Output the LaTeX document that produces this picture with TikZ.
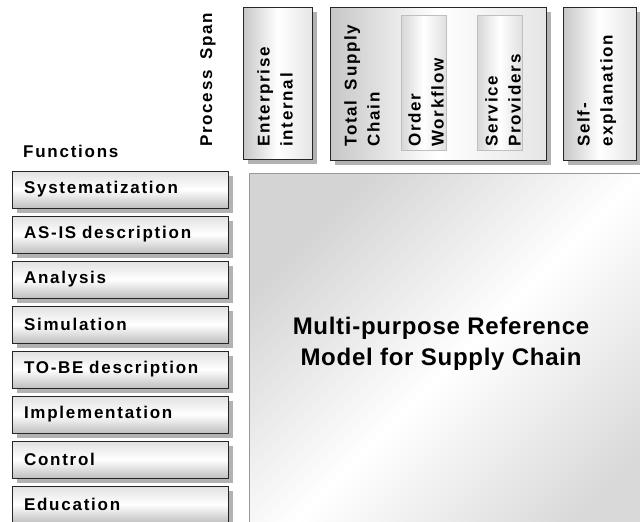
\documentclass[tikz,border=0pt]{standalone}
\usepackage{fontspec}
\setmainfont{Liberation Sans}
\newfontfamily\lblfont{Liberation Sans}[LetterSpace=10.3, WordSpace=1.6]
\newfontfamily\ttlfont{Liberation Sans}[LetterSpace=3]
\usetikzlibrary{shadows}
\tikzset{
  shadowed/.style={drop shadow={shadow xshift=5pt, shadow yshift=-5pt, fill=black!30, opacity=1}},
  lbl/.style={font=\lblfont\bfseries\fontsize{17}{22}\selectfont},
  fbox/.style={draw=black!85, line width=0.9pt, top color=black!12, bottom color=black!25, middle color=white,
    shadowed, minimum width=216pt, minimum height=37pt, text width=192pt, inner xsep=12pt, inner ysep=0pt,
    align=left, lbl},
  hbox/.style={draw=black!85, line width=0.9pt, left color=black!22, right color=black!10, middle color=white, shadowed, inner sep=0pt},
  ibox/.style={draw=black!25, line width=0.7pt, left color=black!16, right color=black!12, middle color=white, inner sep=0pt},
  hlabel/.style={rotate=90, anchor=north west, inner sep=0pt, align=left, font=\lblfont\bfseries\fontsize{17}{23}\selectfont},
}
\begin{document}
\begin{tikzpicture}[x=1pt,y=-1pt]
\useasboundingbox[fill=white] (0,0) rectangle (640,522);
% header boxes
\node[hbox, minimum width=69pt, minimum height=152pt] (ent) at (277.5,83) {};
\node[hbox, minimum width=216pt, minimum height=153pt] (tsc) at (438,83.5) {};
\node[ibox, minimum width=45pt, minimum height=135pt] (ow) at (423.5,82.5) {};
\node[ibox, minimum width=45pt, minimum height=135pt] (sp) at (499.5,82.5) {};
\node[hbox, minimum width=73pt, minimum height=153pt] (self) at (599.5,83.5) {};
% header labels
\node[hlabel] (entl) at (257,147) {Enterprise\\internal};
\node[hlabel] (tscl) at (344,147) {Total Supply\\Chain};
\node[hlabel] (owl) at (408,147) {Order\\Workflow};
\node[hlabel] (spl) at (485,147) {Service\\Providers};
\node[hlabel] (selfl) at (577,147) {Self-\\explanation};
\node[rotate=90, anchor=base west, inner sep=0pt, lbl] (pspan) at (212,147) {Process Span};
\node[anchor=base west, inner sep=0pt, lbl] (funcs) at (23,157) {Functions};
% function boxes
\foreach \t [count=\i from 0] in {Systematization,AS-IS description,Analysis,Simulation,TO-BE description,Implementation,Control,Education}
  \node[fbox] (f\i) at (120,189.5+45*\i) {\t};
% main model box
\node[draw=black!40, line width=0.8pt, top color=black!17, bottom color=black!15, middle color=white, shading angle=45,
  minimum width=420pt, minimum height=370pt, anchor=north west, inner sep=0pt] (model) at (249,173) {};
\node[align=center, font=\ttlfont\bfseries\fontsize{24}{31}\selectfont] (title) at (441,344) {Multi-purpose Reference\\Model for Supply Chain};
\end{tikzpicture}
\end{document}
